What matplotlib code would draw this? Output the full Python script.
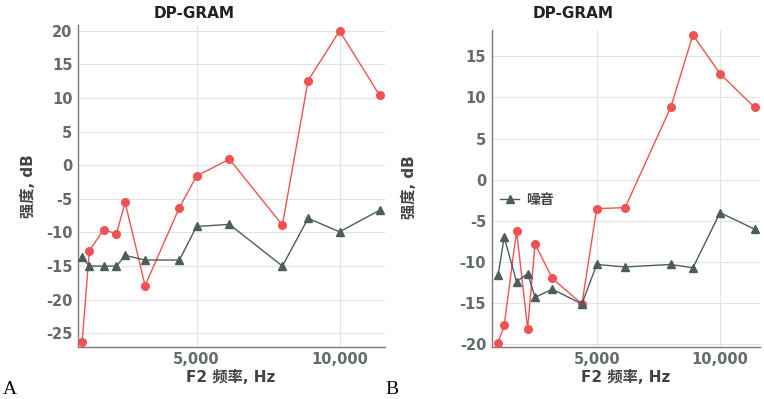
import numpy as np
import matplotlib
matplotlib.use("Agg")
import matplotlib.pyplot as plt
from matplotlib.ticker import FuncFormatter

plt.rcParams['font.family'] = ['DejaVu Sans', 'Noto Sans CJK SC']

# 频率 (Hz)
freq = [1000, 1250, 1750, 2200, 2500, 3200, 4400, 5000, 6150, 8000, 8900, 10000, 11400]

# A: DP 和 噪音 (dB)
dp_a = [-26.3, -12.7, -9.6, -10.2, -5.5, -17.9, -6.3, -1.6, 0.9, -8.9, 12.6, 20.0, 10.4]
noise_a = [-13.7, -15.0, -15.0, -15.0, -13.4, -14.1, -14.1, -9.1, -8.8, -15.0, -7.9, -9.9, -6.7]

# B
dp_b = [-19.8, -17.7, -6.2, -18.1, -7.8, -12.0, -15.1, -3.5, -3.4, 8.8, 17.6, 12.9, 8.8]
noise_b = [-11.6, -7.0, -12.4, -11.4, -14.3, -13.3, -15.1, -10.3, -10.6, -10.3, -10.7, -4.0, -6.0]

red = '#f05252'
gray = '#4d5c5c'
tick_col = '#636b6b'

fig = plt.figure(figsize=(7.64, 3.99), dpi=100)
ax_a = fig.add_axes([0.1021, 0.131, 0.4018, 0.806])
ax_b = fig.add_axes([0.6436, 0.131, 0.3512, 0.7937])


def style(ax, xlim, ylim, yticks):
    ax.set_xlim(*xlim)
    ax.set_ylim(*ylim)
    ax.set_xticks([5000, 10000])
    ax.set_yticks(yticks)
    ax.xaxis.set_major_formatter(FuncFormatter(lambda v, p: f"{int(v):,}"))
    ax.yaxis.set_major_formatter(FuncFormatter(lambda v, p: f"{int(v)}"))
    ax.grid(True, color='#e3e3e3', linewidth=0.8)
    ax.set_axisbelow(True)
    for s in ['top', 'right']:
        ax.spines[s].set_visible(False)
    for s in ['left', 'bottom']:
        ax.spines[s].set_color('#7a7a7a')
        ax.spines[s].set_linewidth(1)
    ax.tick_params(length=0, labelsize=10.5, labelcolor=tick_col, pad=4)
    for lab in ax.get_xticklabels() + ax.get_yticklabels():
        lab.set_fontweight('bold')


ax_a.plot(freq, dp_a, color=red, lw=1, marker='o', ms=5.5, clip_on=False, zorder=3)
ax_a.plot(freq, noise_a, color=gray, lw=1, marker='^', ms=5.5, clip_on=False, zorder=3)
style(ax_a, (854, 11588), (-27, 20.85), [-25, -20, -15, -10, -5, 0, 5, 10, 15, 20])

ax_b.plot(freq, dp_b, color=red, lw=1, marker='o', ms=5.5, clip_on=False, zorder=3)
ax_b.plot(freq, noise_b, color=gray, lw=1, marker='^', ms=5.5, clip_on=False, zorder=3, label='噪音')
style(ax_b, (743, 11621), (-20.3, 18.2), [-20, -15, -10, -5, 0, 5, 10, 15])
ax_b.legend(loc='center left', bbox_to_anchor=(0.031, 0.463), frameon=False,
            borderpad=0, borderaxespad=0, handlelength=1.4, handletextpad=0.5,
            prop={'size': 10, 'weight': 'bold'}, labelcolor='#444444')

for x_t, x_l, y_l, x_x in [(194, 28, 186, 231), (573, 409, 187, 626)]:
    fig.text(x_t / 764, 1 - 13 / 399, 'DP-GRAM', ha='center', va='center',
             fontsize=11, fontweight='bold', color='#222222')
    fig.text(x_l / 764, 1 - y_l / 399, '强度, dB', ha='center', va='center',
             rotation=90, fontsize=11, fontweight='bold', color='#444444')
    fig.text(x_x / 764, 1 - 377 / 399, 'F2 频率, Hz', ha='center', va='center',
             fontsize=11, fontweight='bold', color='#444444')

fig.text(3 / 764, 1 - 389 / 399, 'A', ha='left', va='center', fontsize=14,
         family='Liberation Serif')
fig.text(385 / 764, 1 - 389 / 399, 'B', ha='left', va='center', fontsize=14,
         family='Liberation Serif')

fig.savefig('out.png', dpi=100)
